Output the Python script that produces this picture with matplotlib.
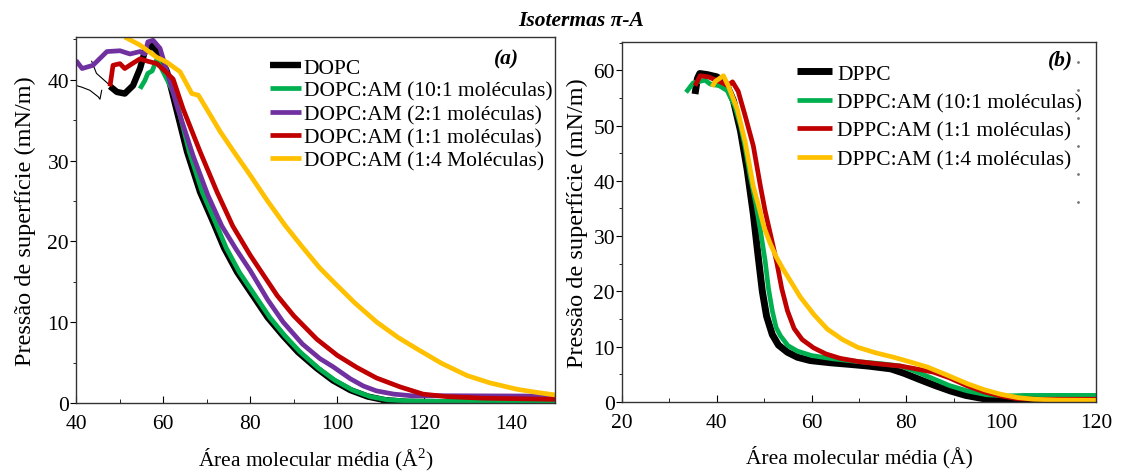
import matplotlib
matplotlib.use("Agg")
import matplotlib.pyplot as plt
from matplotlib.ticker import MultipleLocator

plt.rcParams["font.family"] = ["Liberation Serif", "DejaVu Serif"]
plt.rcParams["mathtext.fontset"] = "custom"
plt.rcParams["mathtext.rm"] = "Liberation Serif"

# ---------------- (a) DOPC monolayers ----------------
dopc_x = [47.8, 49.4, 51.2, 53.1, 54.7, 55.8, 57.5, 58.8, 60.9, 62.3, 65.5, 68.5, 71.5,
          74.0, 77.0, 80.0, 84.0, 87.6, 91.0, 95.3, 99.0, 103.0, 107.0, 111.0, 116.0,
          125.0, 150.0]
dopc_y = [39.2, 38.5, 38.3, 39.3, 41.4, 43.5, 44.2, 43.5, 41.0, 38.0, 31.1, 26.1, 22.4,
          19.2, 16.2, 13.8, 10.6, 8.3, 6.3, 4.3, 2.8, 1.6, 0.8, 0.35, 0.15, 0.1, 0.1]
dopc_tail1_x = [40.0, 41.3, 43.2, 45.1, 45.5, 45.9]
dopc_tail1_y = [39.3, 39.1, 38.7, 37.9, 37.6, 38.7]
dopc_tail2_x = [43.6, 44.7, 47.0, 47.8]
dopc_tail2_y = [42.3, 40.8, 39.7, 39.3]

am10_x = [54.7, 55.8, 56.5, 57.5, 58.6, 60.0, 62.8, 66.0, 69.0, 72.0, 74.5, 77.5, 80.5,
          84.5, 88.0, 91.5, 95.7, 99.5, 103.5, 107.5, 111.5, 116.5, 125.0, 150.0]
am10_y = [38.9, 39.9, 40.8, 41.1, 42.6, 41.0, 38.0, 31.1, 26.1, 22.4, 19.2, 16.2, 13.8,
          10.6, 8.3, 6.3, 4.3, 2.8, 1.6, 0.8, 0.4, 0.25, 0.2, 0.2]

am2_x = [40.0, 41.4, 43.9, 47.1, 50.1, 52.4, 54.7, 55.8, 56.5, 57.7, 59.3, 60.9, 63.4,
         66.9, 70.3, 73.5, 76.8, 80.0, 84.0, 87.6, 92.0, 96.0, 99.0, 103.0, 106.0,
         109.0, 113.0, 117.0, 125.0, 150.0]
am2_y = [42.4, 41.4, 41.8, 43.5, 43.6, 43.2, 43.5, 43.2, 44.7, 44.9, 43.9, 41.0, 36.4,
         30.6, 25.7, 21.9, 19.0, 16.4, 12.8, 10.0, 7.3, 5.5, 4.5, 3.0, 2.1, 1.5, 1.1,
         0.9, 0.9, 0.85]

am1_x = [47.8, 48.5, 50.1, 51.2, 52.9, 54.7, 56.5, 58.6, 60.4, 62.3, 64.6, 68.5, 72.4,
         76.0, 80.0, 86.2, 90.0, 95.3, 100.0, 104.5, 109.0, 114.4, 119.7, 125.0, 133.5,
         150.4]
am1_y = [39.2, 41.8, 42.0, 41.4, 42.0, 42.6, 42.3, 42.0, 41.1, 40.1, 36.4, 31.1, 26.1,
         21.9, 18.3, 13.3, 10.8, 7.9, 5.9, 4.4, 3.1, 2.0, 1.1, 0.8, 0.6, 0.45]

am14_x = [51.2, 54.7, 58.5, 60.8, 63.9, 66.6, 68.1, 70.0, 73.1, 76.5, 80.0, 84.0, 88.0,
          92.0, 96.0, 99.5, 104.0, 109.1, 114.0, 118.3, 124.0, 129.8, 135.0, 141.3,
          146.0, 150.0]
am14_y = [45.3, 44.3, 42.8, 42.2, 41.0, 38.3, 38.1, 36.4, 33.6, 30.9, 28.2, 25.0, 22.0,
          19.3, 16.7, 14.8, 12.4, 10.0, 8.1, 6.7, 4.9, 3.4, 2.5, 1.7, 1.3, 1.0]

labels_a = ["DOPC", "DOPC:AM (10:1 moléculas)", "DOPC:AM (2:1 moléculas)",
            "DOPC:AM (1:1 moléculas)", "DOPC:AM (1:4 Moléculas)"]

# ---------------- (b) DPPC monolayers ----------------
dppc_x = [35.4, 35.9, 36.4, 38.0, 40.0, 42.0, 43.5, 45.0, 46.4, 47.7, 48.7, 49.6, 50.5,
          51.7, 53.0, 54.9, 57.0, 59.7, 64.0, 68.2, 72.0, 76.7, 79.5, 82.4, 86.0, 89.3,
          92.5, 96.3, 99.0, 101.4, 104.0, 110.0, 120.0]
dppc_y = [55.7, 58.5, 59.4, 59.2, 58.8, 57.5, 54.5, 49.0, 42.0, 34.0, 26.5, 20.0, 15.5,
          12.2, 10.3, 9.0, 8.1, 7.5, 7.1, 6.8, 6.5, 6.0, 5.2, 4.2, 3.0, 2.0, 1.2, 0.6,
          0.25, 0.15, 0.3, 0.3, 0.3]

dppc10_x = [33.5, 35.0, 37.5, 38.6, 40.5, 42.2, 43.8, 45.0, 46.0, 47.0, 48.2, 49.2, 50.2,
            50.9, 51.7, 52.5, 53.4, 55.0, 57.0, 60.0, 64.6, 70.0, 75.0, 78.8, 82.0, 85.7,
            89.0, 92.9, 97.0, 101.4, 105.0, 120.0]
dppc10_y = [56.0, 57.7, 58.2, 57.5, 57.2, 56.3, 53.5, 50.0, 46.0, 41.0, 36.0, 31.0, 25.5,
            20.5, 16.5, 13.5, 12.0, 10.2, 9.2, 8.4, 7.8, 7.3, 6.9, 6.5, 5.5, 4.2, 3.0,
            2.0, 1.3, 1.1, 1.2, 1.2]

dppc1_x = [35.4, 36.5, 38.2, 40.7, 42.4, 43.3, 44.5, 46.0, 47.7, 49.2, 50.2, 51.0, 51.8,
           52.7, 53.7, 54.9, 56.3, 58.0, 60.4, 63.0, 66.0, 70.0, 74.0, 78.8, 82.0, 85.7,
           89.0, 92.9, 96.5, 99.9, 103.5, 108.0, 120.0]
dppc1_y = [57.2, 59.0, 58.8, 57.9, 57.2, 57.9, 56.2, 51.7, 46.3, 39.0, 34.5, 31.5, 28.5,
           25.0, 20.5, 16.5, 13.3, 11.3, 9.8, 8.7, 7.9, 7.3, 6.9, 6.5, 6.0, 5.4, 4.4,
           2.9, 1.8, 1.1, 0.6, 0.5, 0.5]

dppc14_x = [39.0, 39.7, 41.4, 42.4, 44.3, 46.0, 47.7, 48.8, 50.0, 51.2, 52.5, 54.0, 55.6,
            57.6, 60.5, 63.3, 66.5, 69.7, 73.5, 77.3, 81.0, 84.5, 88.5, 92.9, 96.5, 99.9,
            103.5, 106.9, 112.0, 120.0]
dppc14_y = [57.0, 58.0, 59.0, 57.2, 53.0, 47.0, 39.0, 35.5, 31.5, 28.8, 26.3, 24.0, 21.8,
            19.0, 15.8, 13.2, 11.3, 9.9, 8.9, 8.1, 7.2, 6.3, 4.9, 3.3, 2.2, 1.4, 0.8,
            0.5, 0.35, 0.3]

labels_b = ["DPPC", "DPPC:AM (10:1 moléculas)", "DPPC:AM (1:1 moléculas)",
            "DPPC:AM (1:4 moléculas)"]

# faint dotted column at the right edge of panel (b)
dots_x = [116.3] * 6
dots_y = [61.5, 56.4, 51.3, 46.3, 41.2, 36.2]

BLACK, GREEN, PURPLE, RED, YELLOW = "#000000", "#00b050", "#7030a0", "#c00000", "#ffc000"
LW = 3.4
FS = 15.5      # ticks, legend
FX = 15.5      # x labels
FY = 17.5      # y labels

fig = plt.figure(figsize=(11.21, 4.77), dpi=100)
ax1 = fig.add_axes([0.0678, 0.1530, 0.4273, 0.7673])
ax2 = fig.add_axes([0.5549, 0.1551, 0.4228, 0.7547])

line_kw = dict(solid_joinstyle="round", solid_capstyle="butt")

# panel (a)
ax1.plot(dopc_tail1_x, dopc_tail1_y, color=BLACK, lw=0.8)
ax1.plot(dopc_tail2_x, dopc_tail2_y, color=BLACK, lw=0.8)
la = []
la += ax1.plot(dopc_x, dopc_y, color=BLACK, lw=LW + 1.2, **line_kw)
la += ax1.plot(am10_x, am10_y, color=GREEN, lw=LW, **line_kw)
la += ax1.plot(am2_x, am2_y, color=PURPLE, lw=LW, **line_kw)
la += ax1.plot(am1_x, am1_y, color=RED, lw=LW, **line_kw)
la += ax1.plot(am14_x, am14_y, color=YELLOW, lw=LW, **line_kw)
ax1.set_xlim(40, 150)
ax1.set_ylim(0, 45.3)
ax1.xaxis.set_major_locator(MultipleLocator(20))
ax1.xaxis.set_minor_locator(MultipleLocator(10))
ax1.yaxis.set_major_locator(MultipleLocator(10))
ax1.yaxis.set_minor_locator(MultipleLocator(5))
ax1.set_xlabel("Área molecular média (Å$^{2}$)", fontsize=FX, labelpad=9)
ax1.set_ylabel("Pressão de superfície (mN/m)", fontsize=FY, labelpad=8)
ax1.legend(la, labels_a, loc="upper left", bbox_to_anchor=(0.405, 0.944), frameon=False,
           fontsize=FS, handlelength=1.45, handletextpad=0.12, labelspacing=0.15,
           borderaxespad=0, borderpad=0)
ax1.text(0.925, 0.97, "(a)", transform=ax1.transAxes, ha="right", va="top",
         fontsize=FS, fontweight="bold", fontstyle="italic")

# panel (b)
lb = []
lb += ax2.plot(dppc_x, dppc_y, color=BLACK, lw=LW + 1.6, **line_kw)
lb += ax2.plot(dppc10_x, dppc10_y, color=GREEN, lw=LW, **line_kw)
lb += ax2.plot(dppc1_x, dppc1_y, color=RED, lw=LW, **line_kw)
lb += ax2.plot(dppc14_x, dppc14_y, color=YELLOW, lw=LW, **line_kw)
ax2.plot(dots_x, dots_y, ls="none", marker="o", ms=1.0, color="#777777")
ax2.set_xlim(20, 120)
ax2.set_ylim(0, 65.1)
ax2.xaxis.set_major_locator(MultipleLocator(20))
ax2.xaxis.set_minor_locator(MultipleLocator(10))
ax2.yaxis.set_major_locator(MultipleLocator(10))
ax2.yaxis.set_minor_locator(MultipleLocator(5))
ax2.set_xlabel("Área molecular média (Å)", fontsize=FX, labelpad=9)
ax2.set_ylabel("Pressão de superfície (mN/m)", fontsize=FY, labelpad=4)
ax2.legend(lb, labels_b, loc="upper left", bbox_to_anchor=(0.369, 0.94), frameon=False,
           fontsize=FS, handlelength=1.63, handletextpad=0.23, labelspacing=0.39,
           borderaxespad=0, borderpad=0)
ax2.text(0.952, 0.978, "(b)", transform=ax2.transAxes, ha="right", va="top",
         fontsize=FS, fontweight="bold", fontstyle="italic")

for ax in (ax1, ax2):
    ax.tick_params(axis="x", which="both", direction="in", labelsize=FS, pad=8)
    ax.tick_params(axis="x", which="major", length=5)
    ax.tick_params(axis="x", which="minor", length=3)
    ax.tick_params(axis="y", which="both", direction="out", labelsize=FS, pad=1)
    ax.tick_params(axis="y", which="major", length=4)
    ax.tick_params(axis="y", which="minor", length=2)
    for s in ax.spines.values():
        s.set_color("#333333")
        s.set_linewidth(1.0)

fig.text(0.518, 0.957, "Isotermas π-A", ha="center", va="center", fontsize=15.5,
         fontweight="bold", fontstyle="italic")

fig.savefig("out.png", dpi=100)
